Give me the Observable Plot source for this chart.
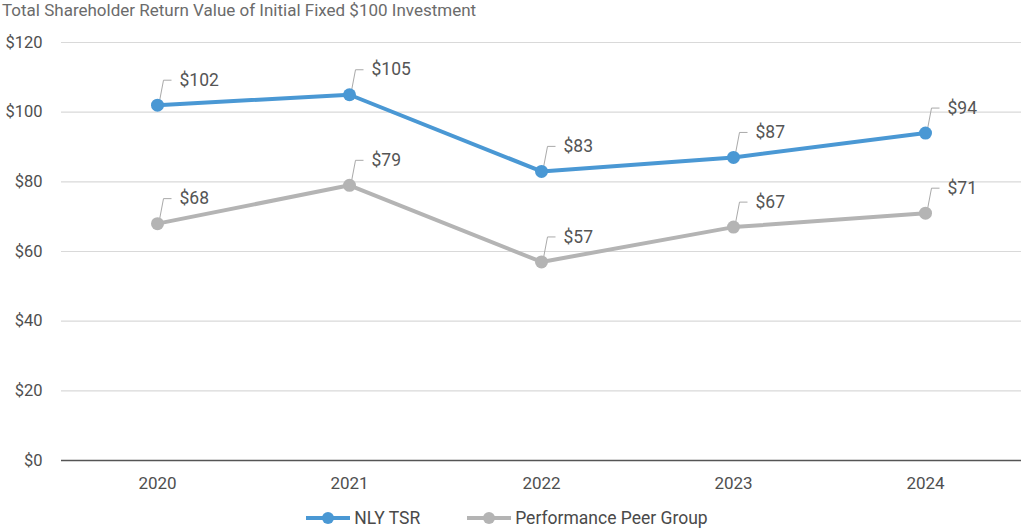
<!DOCTYPE html>
<html>
<head>
<meta charset="utf-8">
<script src="https://cdn.jsdelivr.net/npm/d3@7"></script>
<script src="https://cdn.jsdelivr.net/npm/@observablehq/plot@0.6"></script>
<style>
  body { margin: 0; background: #fff; font-family: Roboto, "Noto Sans", sans-serif; }
  #title { font-size: 17px; color: #6b6b6b; height: 22px; line-height: 20px; padding-left: 2px; white-space: nowrap; }
  #legend { display: flex; justify-content: center; gap: 46px; font-size: 17.5px; color: #4a4a4a; margin-top: 6px; padding-right: 8px; }
  #legend .item { display: flex; align-items: center; gap: 3px; }
</style>
</head>
<body>
<div id="title">Total Shareholder Return Value of Initial Fixed $100 Investment</div>
<div id="chart"></div>
<div id="legend"></div>
<script>
const years = ["2020", "2021", "2022", "2023", "2024"];
const nlyTSR = [102, 105, 83, 87, 94];
const peerGroup = [68, 79, 57, 67, 71];
const seriesNames = ["NLY TSR", "Performance Peer Group"];
const seriesColors = ["#4a98d4", "#b4b4b4"];
const yTicks = [0, 20, 40, 60, 80, 100, 120];

const data = [];
[nlyTSR, peerGroup].forEach((vals, s) => {
  vals.forEach((v, i) => data.push({ series: seriesNames[s], year: years[i], value: v }));
});

const leader = {
  draw(ctx) {
    ctx.moveTo(2, -4);
    ctx.lineTo(6, -25);
    ctx.lineTo(14, -25);
  }
};

const chart = Plot.plot({
  width: 1021,
  height: 480,
  marginLeft: 61,
  marginRight: 0,
  marginTop: 20,
  marginBottom: 42,
  style: { fontFamily: "Roboto, 'Noto Sans', sans-serif", background: "transparent" },
  x: { type: "point", domain: years, padding: 0.5, label: null },
  y: { domain: [0, 120], label: null },
  color: { domain: seriesNames, range: seriesColors },
  marks: [
    Plot.gridY(yTicks.slice(1), { stroke: "#d9d9d9", strokeOpacity: 1, strokeWidth: 1.2 }),
    Plot.ruleY([0], { stroke: "#555", strokeWidth: 1.5 }),
    Plot.axisY(yTicks, { tickSize: 0, tickPadding: 19, tickFormat: d => "$" + d, fontSize: 16.5, fill: "#4f4f4f", label: null }),
    Plot.axisX({ tickSize: 0, tickPadding: 16, fontSize: 17, fill: "#4f4f4f", label: null }),
    Plot.dot(data, { x: "year", y: "value", symbol: leader, r: 6, fill: "none", stroke: "#a9a9a9", strokeWidth: 1 }),
    Plot.line(data, { x: "year", y: "value", z: "series", stroke: "series", strokeWidth: 4 }),
    Plot.dot(data, { x: "year", y: "value", fill: "series", r: 6.5 }),
    Plot.text(data, { x: "year", y: "value", text: d => "$" + d.value, dx: 22, dy: -25, textAnchor: "start", fontSize: 17.5, fill: "#555" })
  ]
});
document.getElementById("chart").appendChild(chart);

const legend = document.getElementById("legend");
seriesNames.forEach((name, i) => {
  const item = document.createElement("div");
  item.className = "item";
  item.innerHTML = `<svg width="46" height="14"><line x1="1" y1="7" x2="45" y2="7" stroke="${seriesColors[i]}" stroke-width="4"/><circle cx="23" cy="7" r="6" fill="${seriesColors[i]}"/></svg><span>${name}</span>`;
  legend.appendChild(item);
});
</script>
</body>
</html>
